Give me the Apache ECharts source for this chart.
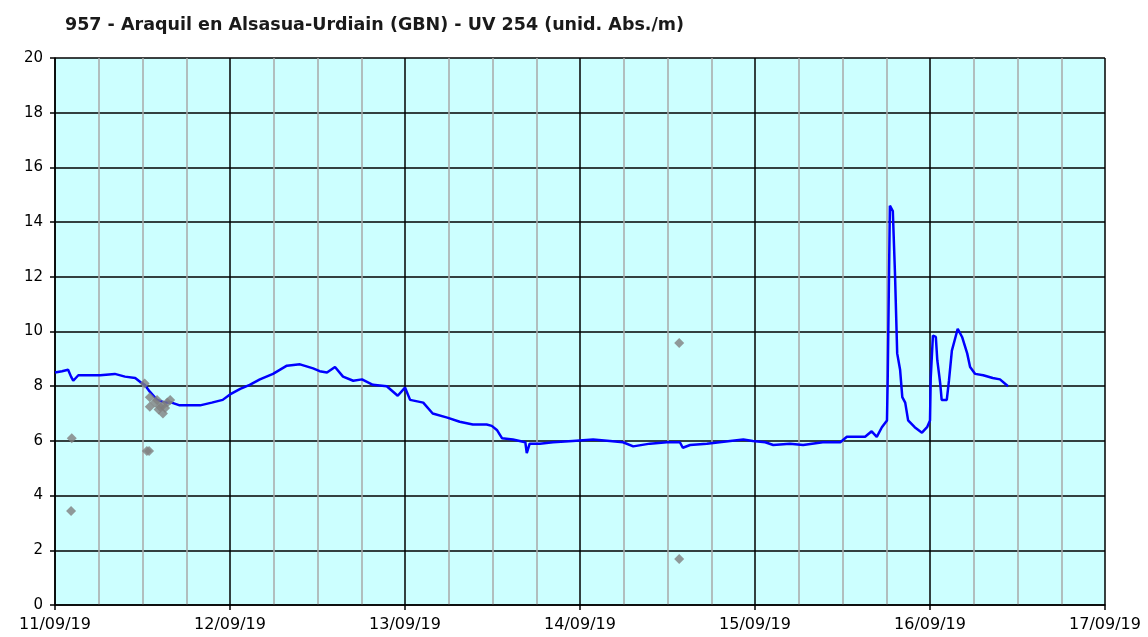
<!DOCTYPE html>
<html>
<head>
<meta charset="utf-8">
<script src="https://cdn.jsdelivr.net/npm/echarts@6/dist/echarts.min.js"></script>
<style>
html,body{margin:0;padding:0;background:#fff;}
#chart{width:1148px;height:637px;}
</style>
</head>
<body>
<div id="chart"></div>
<script>
// Hours since 11/09/19 00:00
const lineHours = [0,0.96,1.8,2.2,2.5,3.2,6.2,8.2,9.6,11.0,11.7,12.3,13.0,14.0,15.1,16.0,17.1,18.5,19.9,21.5,23.0,24.0,25.4,26.7,28.1,29.9,31.8,33.6,35.4,36.3,37.3,38.4,39.5,40.9,42.1,43.6,45.5,47.0,48.0,48.7,50.5,51.8,53.8,55.5,57.3,59.2,59.9,60.6,61.3,62.8,64.5,64.7,65.1,66.5,68.3,71.0,73.8,76.1,77.9,79.3,81.6,83.9,85.7,86.1,87.1,89.4,92.6,94.4,95.7,97.4,98.5,100.8,102.6,105.3,107.7,108.6,110.0,111.1,112.0,112.7,113.4,114.1,114.2,114.5,114.9,115.2,115.5,115.9,116.2,116.6,117.0,117.9,118.9,119.6,120.0,120.1,120.4,120.8,121.0,121.4,121.6,122.3,122.6,123.0,123.4,123.8,124.4,125.1,125.5,126.2,127.3,128.6,129.6,130.7];
const lineValues = [8.5,8.55,8.6,8.35,8.2,8.4,8.4,8.45,8.35,8.3,8.15,8.05,7.8,7.5,7.4,7.4,7.3,7.3,7.3,7.4,7.5,7.7,7.9,8.05,8.25,8.45,8.75,8.8,8.65,8.55,8.5,8.7,8.35,8.2,8.25,8.05,8.0,7.65,7.95,7.5,7.4,7.0,6.85,6.7,6.6,6.6,6.55,6.4,6.1,6.05,5.95,5.55,5.9,5.9,5.95,6.0,6.05,6.0,5.95,5.8,5.9,5.95,5.95,5.75,5.85,5.9,6.0,6.05,6.0,5.95,5.85,5.9,5.85,5.95,5.95,6.15,6.15,6.15,6.35,6.15,6.5,6.75,8.3,14.6,14.4,12.1,9.2,8.6,7.6,7.4,6.75,6.5,6.3,6.5,6.75,8.3,9.85,9.8,8.95,8.1,7.5,7.5,8.2,9.3,9.7,10.1,9.8,9.2,8.7,8.45,8.4,8.3,8.25,8.0];
const pointHours = [2.3,2.2,12.6,12.9,12.3,13.0,13.0,13.7,14.0,14.4,14.8,15.4,15.8,14.8,14.2,15.1,85.6,85.6];
const pointValues = [6.1,3.44,5.63,5.63,8.1,7.6,7.25,7.4,7.5,7.25,7.0,7.4,7.5,7.3,7.15,7.2,9.58,1.68];
const dateLabels = ["11/09/19","12/09/19","13/09/19","14/09/19","15/09/19","16/09/19","17/09/19"];
const yTicks = [0,2,4,6,8,10,12,14,16,18,20];
const titleText = "957 - Araquil en Alsasua-Urdiain (GBN) - UV 254 (unid. Abs./m)";

const chart = echarts.init(document.getElementById('chart'), null, {renderer:'canvas'});
const font = '"DejaVu Sans", Verdana, sans-serif';
chart.setOption({
  animation: false,
  backgroundColor: '#ffffff',
  title: {
    text: titleText, left: 60, top: 11,
    textStyle: {fontFamily: font, fontWeight: 'bold', fontSize: 17.5, color: '#1a1a1a'}
  },
  grid: {left: 55, right: 43, top: 58, bottom: 32, show: true, backgroundColor: '#ccffff', borderWidth: 0},
  xAxis: [{
    type: 'value', min: 0, max: 144, interval: 6,
    axisLine: {show: false}, axisTick: {show: false}, axisLabel: {show: false},
    splitLine: {show: true, lineStyle: {color: ['#000000','#a8a8a8','#a8a8a8','#a8a8a8'], width: 1.5}}
  },{
    type: 'value', min: 0, max: 144, interval: 24, position: 'bottom',
    axisLine: {show: true, onZero: false, lineStyle: {color: '#000', width: 1.5}},
    axisTick: {show: true, length: 5, lineStyle: {color: '#000', width: 1.5}},
    axisLabel: {show: true, margin: 12, fontFamily: font, fontSize: 16, color: '#000',
      formatter: v => dateLabels[Math.round(v/24)] || ''},
    splitLine: {show: false}
  }],
  yAxis: {
    type: 'value', min: yTicks[0], max: yTicks[yTicks.length-1], interval: 2,
    axisLine: {show: true, lineStyle: {color: '#000', width: 1.5}},
    axisTick: {show: true, length: 5, lineStyle: {color: '#000', width: 1.5}},
    axisLabel: {margin: 12, fontFamily: font, fontSize: 15, color: '#000'},
    splitLine: {show: true, lineStyle: {color: '#000', width: 1.5}}
  },
  series: [{
    type: 'line', xAxisIndex: 0,
    data: lineHours.map((h,i) => [h, lineValues[i]]),
    showSymbol: false, symbol: 'none',
    lineStyle: {color: '#0000ff', width: 2.5}, z: 3
  },{
    type: 'scatter', xAxisIndex: 0,
    data: pointHours.map((h,i) => [h, pointValues[i]]),
    symbol: 'diamond', symbolSize: 10,
    itemStyle: {color: '#808080'}, z: 4
  }]
});
</script>
</body>
</html>
